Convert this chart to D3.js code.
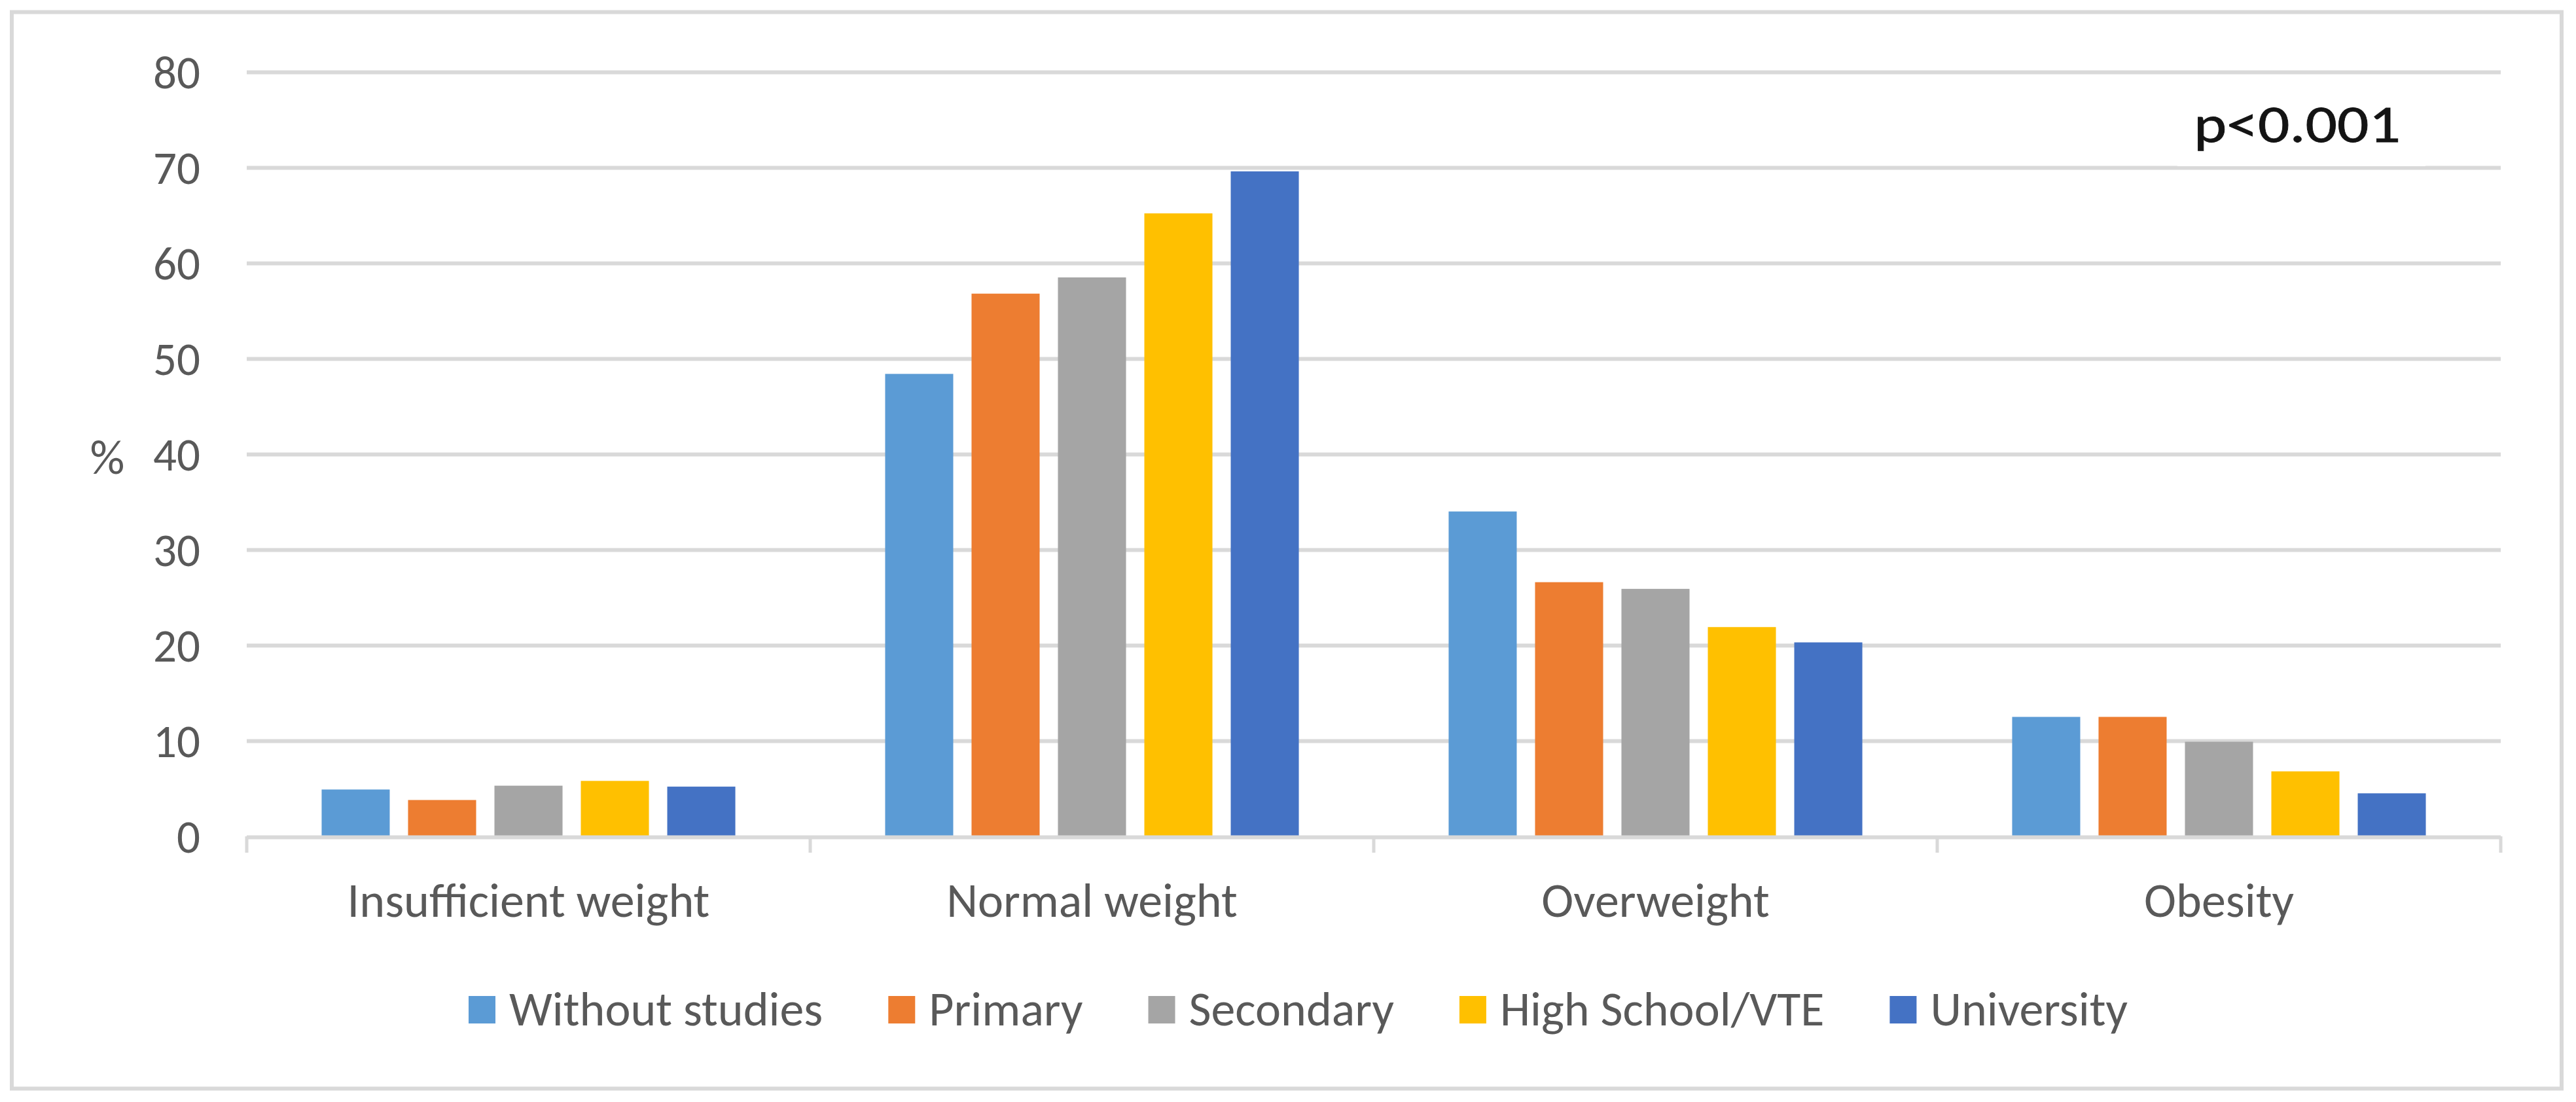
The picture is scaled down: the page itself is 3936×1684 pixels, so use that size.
<!DOCTYPE html>
<html>
<head>
<meta charset="utf-8">
<script src="https://cdn.jsdelivr.net/npm/d3@7"></script>
<style>
  html, body { margin: 0; padding: 0; background: #ffffff; }
  svg { display: block; }
</style>
</head>
<body>
<script>
// ---- Data ----
const categories = ["Insufficient weight", "Normal weight", "Overweight", "Obesity"];
const seriesNames = ["Without studies", "Primary", "Secondary", "High School/VTE", "University"];
const withoutStudies = [4.9, 48.4, 34.0, 12.5];
const primary        = [3.8, 56.8, 26.6, 12.5];
const secondary      = [5.3, 58.5, 25.9, 9.9];
const highSchool     = [5.8, 65.2, 21.9, 6.8];
const university     = [5.2, 69.6, 20.3, 4.5];
const yTicks = [0, 10, 20, 30, 40, 50, 60, 70, 80];
const seriesColors = ["#5B9BD5", "#ED7D31", "#A5A5A5", "#FFC000", "#4472C4"];
const yAxisTitle = "%";
const pValueText = "p<0.001";

const seriesValues = [withoutStudies, primary, secondary, highSchool, university];
const table = categories.map((c, ci) => ({
  category: c,
  values: seriesNames.map((s, si) => ({ series: s, value: seriesValues[si][ci] }))
}));

// ---- Layout ----
const W = 3936, H = 1684;
const FONT = "Carlito, Calibri, Lato, sans-serif";
const TEXT = "#595959";
const GRID = "#D9D9D9";

const svg = d3.select("body").append("svg")
  .attr("width", W).attr("height", H)
  .attr("viewBox", `0 0 ${W} ${H}`);

svg.append("rect").attr("width", W).attr("height", H).attr("fill", "#fff");

// chart border
svg.append("rect")
  .attr("x", 18).attr("y", 18.5).attr("width", 3896).attr("height", 1645)
  .attr("fill", "none").attr("stroke", GRID).attr("stroke-width", 6);

const x0 = d3.scaleBand().domain(categories).range([377, 3821]).paddingInner(0).paddingOuter(0);
const x1 = d3.scaleBand().domain(seriesNames).range([0, x0.bandwidth()])
  .paddingInner(0.212).paddingOuter(0.867);
const y = d3.scaleLinear().domain([0, 80]).range([1278, 110]);
const color = d3.scaleOrdinal().domain(seriesNames).range(seriesColors);

// gridlines
const yAxis = d3.axisLeft(y).tickValues(yTicks.filter(t => t > 0))
  .tickSize(-(3821 - 377)).tickFormat("");
const gGrid = svg.append("g").attr("transform", `translate(377,0)`).call(yAxis);
gGrid.select(".domain").remove();
gGrid.selectAll(".tick line").attr("stroke", GRID).attr("stroke-width", 6);

// y tick labels
svg.append("g").selectAll("text").data(yTicks).join("text")
  .attr("x", 306).attr("y", d => y(d) + 25)
  .attr("text-anchor", "end")
  .attr("font-family", FONT).attr("font-size", 71).attr("fill", TEXT)
  .text(d => d);

// y title
svg.append("text")
  .attr("x", 164).attr("y", 724)
  .attr("text-anchor", "middle")
  .attr("font-family", FONT).attr("font-size", 74).attr("fill", TEXT)
  .text(yAxisTitle);

// bars
const groups = svg.append("g").selectAll("g").data(table).join("g")
  .attr("transform", d => `translate(${x0(d.category)},0)`);
groups.selectAll("rect").data(d => d.values).join("rect")
  .attr("x", d => x1(d.series))
  .attr("width", x1.bandwidth())
  .attr("y", d => y(d.value))
  .attr("height", d => y(0) - y(d.value))
  .attr("fill", d => color(d.series));

// x axis
const xAxis = d3.axisBottom(x0).tickSize(0).tickFormat("");
const gX = svg.append("g").attr("transform", `translate(0,${y(0) + 1.5})`).call(xAxis);
gX.select(".domain").attr("stroke", GRID).attr("stroke-width", 6)
  .attr("d", `M377,0H3821`);
gX.selectAll(".tick").remove();
// category boundary ticks
const bounds = categories.map(c => x0(c)).concat([x0(categories[categories.length - 1]) + x0.bandwidth()]);
svg.append("g").selectAll("line").data(bounds).join("line")
  .attr("x1", d => d).attr("x2", d => d)
  .attr("y1", y(0)).attr("y2", 1303)
  .attr("stroke", GRID).attr("stroke-width", 5);

// category labels
svg.append("g").selectAll("text").data(categories).join("text")
  .attr("x", d => x0(d) + x0.bandwidth() / 2)
  .attr("y", 1401)
  .attr("text-anchor", "middle")
  .attr("font-family", FONT).attr("font-size", 74).attr("fill", TEXT)
  .text(d => d);

// p-value with white box
svg.append("rect").attr("x", 3327).attr("y", 130).attr("width", 379).attr("height", 124).attr("fill", "#fff");
svg.append("text")
  .attr("x", 3352).attr("y", 217)
  .attr("font-family", FONT).attr("font-size", 80).attr("fill", "#141414")
  .attr("stroke", "#141414").attr("stroke-width", 0.8)
  .attr("textLength", 316).attr("lengthAdjust", "spacingAndGlyphs")
  .text(pValueText);

// legend
const legend = svg.append("g");
const items = legend.selectAll("g").data(seriesNames).join("g");
items.append("rect").attr("width", 41).attr("height", 42).attr("y", 1522)
  .attr("fill", d => color(d));
items.append("text").attr("y", 1567).attr("x", 62)
  .attr("font-family", FONT).attr("font-size", 74).attr("fill", TEXT)
  .text(d => d);
let widths = [];
items.each(function () { widths.push(d3.select(this).select("text").node().getComputedTextLength()); });
const gap = 100;
const total = widths.reduce((a, w) => a + 62 + w, 0) + gap * (widths.length - 1);
let cx = 1983.5 - total / 2;
items.each(function (d, i) {
  d3.select(this).attr("transform", `translate(${cx},0)`);
  cx += 62 + widths[i] + gap;
});
</script>
</body>
</html>
